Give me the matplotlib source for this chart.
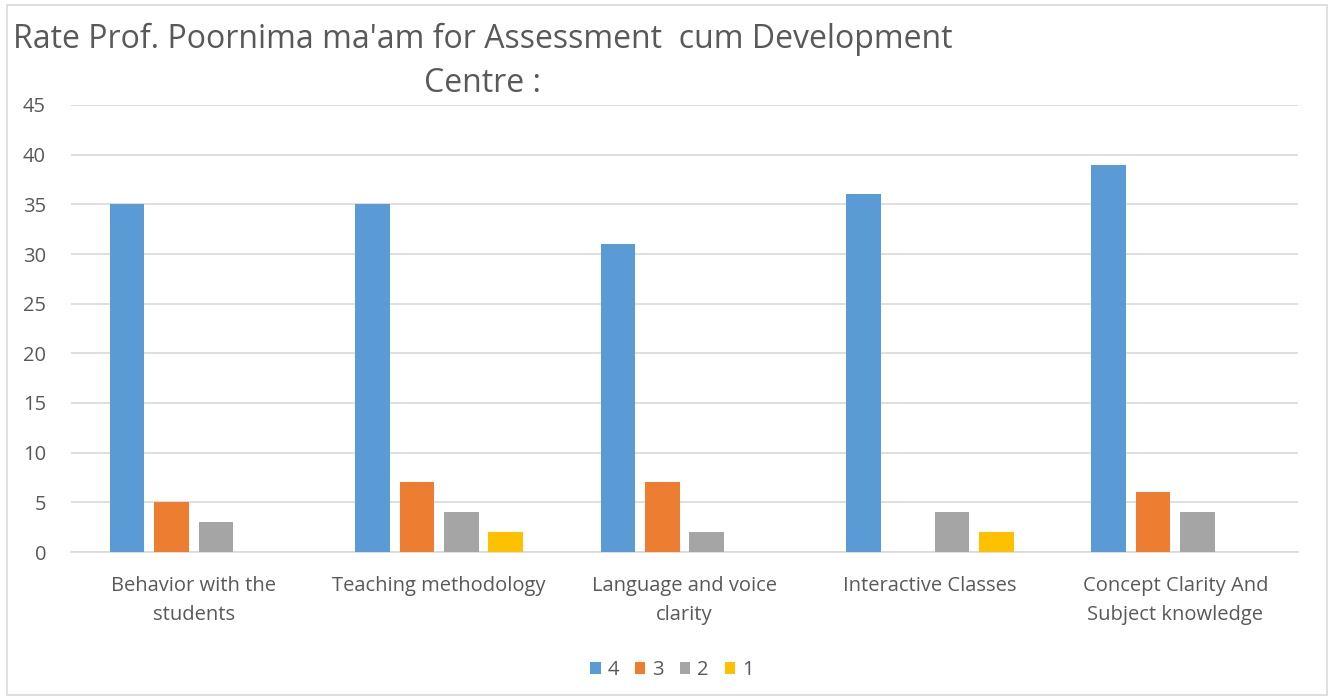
import numpy as np
import matplotlib.pyplot as plt
from matplotlib.patches import Rectangle

plt.rcParams["font.family"] = ["Open Sans", "DejaVu Sans"]

categories = [
    "Behavior with the\nstudents",
    "Teaching methodology",
    "Language and voice\nclarity",
    "Interactive Classes",
    "Concept Clarity And\nSubject knowledge",
]
series_names = ["4", "3", "2", "1"]
rating_4 = [35, 35, 31, 36, 39]
rating_3 = [5, 7, 7, 0, 6]
rating_2 = [3, 4, 2, 4, 4]
rating_1 = [0, 2, 0, 2, 0]
colors = ["#5b9bd5", "#ed7d31", "#a5a5a5", "#ffc000"]
title_lines = ["Rate Prof. Poornima ma'am for Assessment  cum Development", "Centre :"]

W, H = 1332, 700
fig = plt.figure(figsize=(W / 100, H / 100), dpi=100)
fig.patches.append(Rectangle((7 / W, 5 / H), 1320 / W, 690 / H, transform=fig.transFigure,
                             fill=False, edgecolor="#d9d9d9", linewidth=1.2))
ax = fig.add_axes([71 / W, 148 / H, 1227 / W, 447 / H])

x = np.arange(len(categories))
step = 0.181
width = 0.141
for i, (vals, name, c) in enumerate(zip([rating_4, rating_3, rating_2, rating_1], series_names, colors)):
    ax.bar(x + (i - 1.5) * step, vals, width=width, color=c, label=name, zorder=3)

ax.set_xlim(-0.5, len(categories) - 0.5)
ax.set_ylim(0, 45)
ax.set_yticks(range(0, 46, 5))
ax.set_xticks(x)
ax.set_xticklabels(categories, fontsize=14.5, color="#595959", linespacing=1.65)
ax.tick_params(axis="y", labelsize=14.5, labelcolor="#595959", length=0, pad=18)
ax.tick_params(axis="x", length=0, pad=17)
ax.grid(axis="y", color="#d9d9d9", linewidth=1.2, zorder=0)
for s in ["top", "right", "left"]:
    ax.spines[s].set_visible(False)
ax.spines["bottom"].set_color("#d9d9d9")
ax.spines["bottom"].set_linewidth(1.2)

# title is wrapped in the original, second line centred under the first
for line, ypix in zip(title_lines, [39, 83]):
    fig.text(483 / W, 1 - ypix / H, line, ha="center", va="center",
             fontsize=23, color="#595959")

fig.legend(loc="center", bbox_to_anchor=(672 / W, 1 - 670 / H), ncol=4,
           frameon=False, fontsize=14.5, labelcolor="#595959",
           handlelength=0.5, handleheight=0.5, handletextpad=0.35, columnspacing=0.8)

fig.savefig("out.png", dpi=100)
